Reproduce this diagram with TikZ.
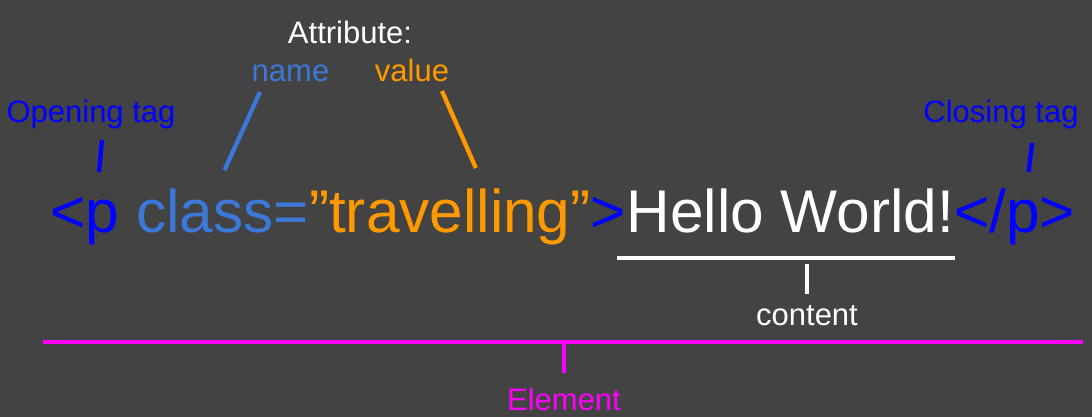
\documentclass[tikz,border=0pt]{standalone}
\usepackage{fontspec}
\setmainfont{Liberation Sans}
\usetikzlibrary{calc}
\definecolor{cbg}{HTML}{434343}
\definecolor{cblue}{HTML}{0000FF}
\definecolor{cname}{HTML}{3C78D8}
\definecolor{cval}{HTML}{FF9900}
\definecolor{cmag}{HTML}{FF00FF}

\begin{document}
\begin{tikzpicture}[x=1pt, y=-1pt,
  code/.style={inner sep=0pt, anchor=base west, font=\fontsize{60.3}{60}\selectfont},
  lab/.style={inner sep=0pt, anchor=base, font=\fontsize{31}{31}\selectfont, text=#1},
  lab/.default=white,
  tick/.style={draw=#1, line width=4.3pt},
  uline/.style={draw=#1, line width=4.7pt},
  stub/.style={draw=#1, line width=3.3pt}]
\fill[cbg] (0,0) rectangle (1092,417);
\useasboundingbox (0,0) rectangle (1092,417);
%% the code line
\node[code, text=cblue] (otag) at (50,232) {<p};
\node[code, text=cname] (aname) at (otag.base east) {\ class=};
\node[code, text=cval] (aval) at (aname.base east) {”travelling”};
\node[code, text=cblue] (gt) at (aval.base east) {>};
\node[code, text=white] (body) at (gt.base east) {Hello World!};
\node[code, text=cblue] (ctag) at (body.base east) {</p>};
%% labels
\node[lab] (lattr) at (350,44) {Attribute:};
\node[lab=cname] (lname) at (290.5,82) {name};
\node[lab=cval] (lval) at (412,82) {value};
\node[lab=cblue] (lopen) at (91,123) {Opening tag};
\node[lab=cblue] (lclose) at (1001,123) {Closing tag};
\node[lab] (lbody) at (807,325) {content};
\node[lab=cmag] (lelem) at (564,410) {Element};
%% pointers
\draw[tick=cblue] ($(lopen.base)+(11,17)$) -- ($(otag.base west)+(49,-60)$);
\draw[tick=cname] ($(lname.base)+(-30.5,10)$) -- ($(aname.base)+(10.5,-62)$);
\draw[tick=cval] ($(lval.base)+(30,9)$) -- ($(aval.base)+(26,-64)$);
\draw[tick=cblue] ($(lclose.base)+(31,20)$) -- ($(ctag.base)+(14,-60)$);
%% brackets
\draw[uline=white] ($(body.base west)+(-9.5,26)$) -- ($(body.base east)+(0.5,26)$);
\draw[stub=white] ($(lbody.base)+(0,-31)$) -- ($(lbody.base)+(0,-61)$);
\coordinate (eleft) at (43,342);
\coordinate (eright) at (1083,342);
\draw[uline=cmag] (eleft) -- (eright);
\draw[stub=cmag] ($(lelem.base)+(0,-37)$) -- (lelem.base |- eleft);
\end{tikzpicture}
\end{document}
